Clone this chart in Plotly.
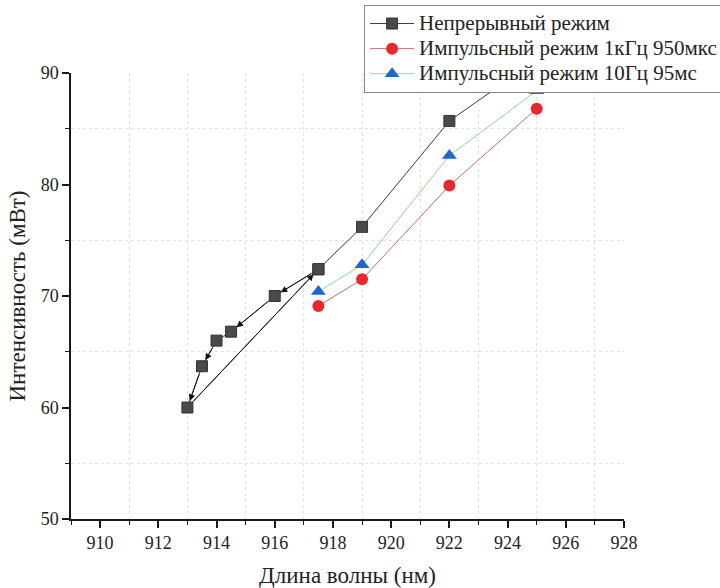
import plotly.graph_objects as go

# Continuous mode: measurement sequence (down-scan 917.5 -> 913, jump back, then up-scan)
cw_wl = [917.5, 916, 914.5, 914, 913.5, 913, 917.5, 919, 922, 925]
cw_pw = [72.4, 70.0, 66.8, 66.0, 63.7, 60.0, 72.4, 76.2, 85.7, 91.2]

# Pulsed mode 1 kHz, 950 us
p1_wl = [917.5, 919, 922, 925]
p1_pw = [69.1, 71.5, 79.9, 86.8]

# Pulsed mode 10 Hz, 95 ms
p2_wl = [917.5, 919, 922, 925]
p2_pw = [70.4, 72.8, 82.6, 88.4]

series_names = ["Непрерывный режим",
                "Импульсный режим 1кГц 950мкс",
                "Импульсный режим 10Гц 95мс"]

x_ticks = [910, 912, 914, 916, 918, 920, 922, 924, 926, 928]
y_ticks = [50, 60, 70, 80, 90]

# arrows along the continuous-mode path (from index -> to index)
arrow_pairs = [(0, 1), (1, 2), (3, 4), (4, 5), (5, 6)]

FONT = "Liberation Serif"


def legend_label(s):
    # larger glyphs than the legend's base size, keeping rows compact
    return f'<span style="font-size:21px">{s}</span>'


fig = go.Figure()

fig.add_trace(go.Scatter(
    x=cw_wl, y=cw_pw, mode="lines+markers", name=legend_label(series_names[0]),
    line=dict(color="#3a3a3a", width=1),
    marker=dict(symbol="square", size=11, color="#4a4a4a",
                line=dict(color="#333333", width=1)),
))
fig.add_trace(go.Scatter(
    x=p1_wl, y=p1_pw, mode="lines+markers", name=legend_label(series_names[1]),
    line=dict(color="#c07070", width=1),
    marker=dict(symbol="circle", size=12, color="#e8282c",
                line=dict(color="#e8282c", width=0)),
))
fig.add_trace(go.Scatter(
    x=p2_wl, y=p2_pw, mode="lines+markers", name=legend_label(series_names[2]),
    line=dict(color="#8fdc8f", width=1),
    marker=dict(symbol="triangle-up", size=13, color="#1f66d1",
                line=dict(color="#1f66d1", width=0)),
))

for i, j in arrow_pairs:
    fig.add_annotation(
        x=cw_wl[j], y=cw_pw[j], ax=cw_wl[i], ay=cw_pw[i],
        xref="x", yref="y", axref="x", ayref="y",
        showarrow=True, arrowhead=2, arrowsize=1.3, arrowwidth=1,
        arrowcolor="#111111", standoff=7, startstandoff=7, text="",
    )

axis_common = dict(
    showline=True, linecolor="#1a1a1a", linewidth=1.5, mirror=False,
    ticks="outside", ticklen=7, tickwidth=1.5, tickcolor="#1a1a1a",
    showgrid=False, zeroline=False,
    tickfont=dict(family=FONT, size=18, color="#222222"),
)

fig.update_xaxes(
    range=[909, 928], tickvals=x_ticks,
    title=dict(text="Длина волны (нм)", font=dict(family=FONT, size=23, color="#222222"),
               standoff=16),
    minor=dict(dtick=2, tick0=911, ticks="outside", ticklen=4, tickwidth=1.2,
               tickcolor="#1a1a1a", showgrid=True, gridcolor="#e2e2e2",
               griddash="dot", gridwidth=1),
    **axis_common,
)
fig.update_yaxes(
    range=[50, 90], tickvals=y_ticks,
    title=dict(text="Интенсивность (мВт)", font=dict(family=FONT, size=23, color="#222222"),
               standoff=9),
    minor=dict(dtick=10, tick0=55, ticks="outside", ticklen=4, tickwidth=1.2,
               tickcolor="#1a1a1a", showgrid=True, gridcolor="#e2e2e2",
               griddash="dot", gridwidth=1),
    **axis_common,
)

fig.update_layout(
    width=720, height=588,
    margin=dict(l=71, r=96, t=73, b=69, autoexpand=False),
    paper_bgcolor="white", plot_bgcolor="white",
    font=dict(family=FONT, color="#222222"),
    legend=dict(
        x=0.530, y=1.1525, xanchor="left", yanchor="top",
        bgcolor="white", bordercolor="#888888", borderwidth=1,
        font=dict(family=FONT, size=17, color="#222222"),
        tracegroupgap=0, itemwidth=44,
    ),
)

fig.write_html("out.html")
